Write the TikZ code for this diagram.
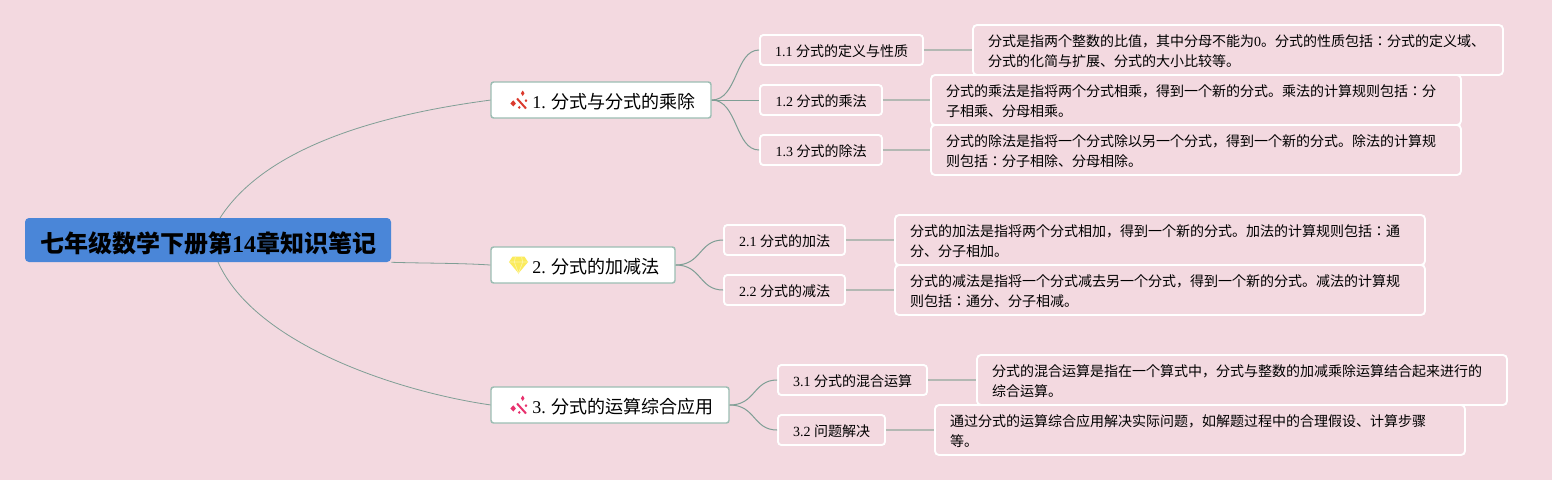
\documentclass[tikz,border=0pt]{standalone}
\usepackage{fontspec}
\setmainfont{Liberation Serif}
\newfontfamily\cjk{Noto Sans CJK JP}
\definecolor{NoteBack}{HTML}{F3D9E0}
\definecolor{NoteRoot}{HTML}{4A86D8}
\definecolor{NoteEdge}{HTML}{9CBDB3}
\definecolor{NoteLink}{HTML}{7F9E95}
\definecolor{NoteLine}{HTML}{B3B8B3}
\definecolor{NoteRed}{HTML}{DB3A2E}
\definecolor{NotePink}{HTML}{E8316E}
\definecolor{NoteGold}{HTML}{FBEB5B}
\newcommand{\lat}[1]{{\rmfamily #1}}
\newcommand{\wandicon}[2]{%
  \begin{scope}[shift={(#1)}]
    \draw[#2,line width=1.5pt] (-1.5,-2) -- (7.5,8);
    \fill[#2] (4.2,-10) -- (6,-7.2) -- (4.2,-4.5) -- (2.4,-7.2) -- cycle;
    \fill[#2] (-5.2,-0.2) -- (-2.6,3) -- (-5.2,6) -- (-8.2,3) -- cycle;
    \fill[#2] (0.8,5.4) -- (2.2,7) -- (0.8,8.4) -- (-0.6,7) -- cycle;
    \fill[#2] (7.5,-1.4) -- (8.8,0.2) -- (7.5,1.6) -- (6.2,0.2) -- cycle;
  \end{scope}}
\newcommand{\gemicon}[2]{%
  \begin{scope}[shift={(#1)}]
    \fill[#2] (-6,-8.3) -- (6,-8.3) -- (9.5,-3) -- (0,8.3) -- (-9.5,-3) -- cycle;
    \draw[white!45!#2,line width=0.5pt] (-9.5,-3) -- (9.5,-3) (-3,-8.3) -- (-4.2,-3) -- (0,8.3) -- (4.2,-3) -- (3,-8.3);
  \end{scope}}
\tikzset{
  noteroot/.style={
    fill=NoteRoot,
    rounded corners=3pt,
    minimum width=274.5pt,
    minimum height=33pt,
    inner sep=0pt,
    text height=20pt,
    text depth=1.6pt,
    font=\cjk\fontsize{18}{22}\selectfont\bfseries
  },
  notemain/.style={
    draw=NoteEdge,
    fill=white,
    line width=1.1pt,
    rounded corners=2pt,
    minimum height=27pt,
    inner sep=0pt,
    text height=13.5pt,
    text depth=1.5pt,
    font=\cjk\fontsize{13.5}{16}\selectfont
  },
  notesub/.style={
    draw=white,
    line width=1.4pt,
    rounded corners=2.5pt,
    minimum height=22.5pt,
    inner sep=0pt,
    text height=11pt,
    text depth=1.5pt,
    font=\cjk\fontsize{10.5}{13}\selectfont
  },
  notetext/.style={
    draw=white,
    line width=1.4pt,
    rounded corners=3pt,
    minimum height=37.5pt,
    text width=375pt,
    inner xsep=11.25pt,
    inner ysep=0pt,
    align=left,
    text height=10pt,
    text depth=15.14pt,
    font=\cjk\fontsize{10.5}{15}\selectfont
  },
  rootlink/.style={draw=NoteLink,line width=0.6pt},
  mainlink/.style={draw=NoteLink,line width=0.75pt},
  textlink/.style={draw=NoteLine,line width=1.1pt}
}
\begin{document}
\begin{tikzpicture}[x=0.75pt,y=-0.75pt]
  \useasboundingbox[fill=NoteBack] (0,0) rectangle (1552,480);

  \draw[rootlink] (220,218) coordinate (rootup) .. controls (270,140) and (400,112) .. (491,100) coordinate (mainup);
  \draw[rootlink] (218,262) coordinate (rootdown) .. controls (255,345) and (400,392) .. (491,405) coordinate (maindown);

  \node[noteroot] (root) at (208,240) {七年级数学下册第\lat{14}章知识笔记};

  \node[notemain,minimum width=165pt] (fracmul) at (601,100) {\hspace{19.5pt}\lat{1. }分式与分式的乘除};
  \node[notemain,minimum width=138pt] (fracadd) at (583,265) {\hspace{19.5pt}\lat{2. }分式的加减法};
  \node[notemain,minimum width=178.5pt] (fracmix) at (610,405) {\hspace{19.5pt}\lat{3. }分式的运算综合应用};
  \wandicon{518.5,100.5}{NoteRed}
  \gemicon{518.5,265}{NoteGold}
  \wandicon{518.5,405.5}{NotePink}

  \node[notesub,minimum width=122.25pt] (subdef) at (841.5,50) {\lat{1.1 }分式的定义与性质};
  \node[notesub,minimum width=91.5pt] (submul) at (821,100) {\lat{1.2 }分式的乘法};
  \node[notesub,minimum width=91.5pt] (subdiv) at (821,150) {\lat{1.3 }分式的除法};
  \node[notesub,minimum width=90.75pt] (subadd) at (784.5,240) {\lat{2.1 }分式的加法};
  \node[notesub,minimum width=90.75pt] (subsub) at (784.5,290) {\lat{2.2 }分式的减法};
  \node[notesub,minimum width=111.75pt] (submix) at (852.5,380) {\lat{3.1 }分式的混合运算};
  \node[notesub,minimum width=80.25pt] (subuse) at (831.5,430) {\lat{3.2 }问题解决};

  \node[notetext] (textdef) at (1238,50) {分式是指两个整数的比值，其中分母不能为\lat{0}。分式的性质包括：分式的定义域、\\分式的化简与扩展、分式的大小比较等。};
  \node[notetext] (textmul) at (1196,100) {分式的乘法是指将两个分式相乘，得到一个新的分式。乘法的计算规则包括：分\\子相乘、分母相乘。};
  \node[notetext] (textdiv) at (1196,150) {分式的除法是指将一个分式除以另一个分式，得到一个新的分式。除法的计算规\\则包括：分子相除、分母相除。};
  \node[notetext] (textadd) at (1160,240) {分式的加法是指将两个分式相加，得到一个新的分式。加法的计算规则包括：通\\分、分子相加。};
  \node[notetext] (textsub) at (1160,290) {分式的减法是指将一个分式减去另一个分式，得到一个新的分式。减法的计算规\\则包括：通分、分子相减。};
  \node[notetext] (textmix) at (1242,380) {分式的混合运算是指在一个算式中，分式与整数的加减乘除运算结合起来进行的\\综合运算。};
  \node[notetext] (textuse) at (1200,430) {通过分式的运算综合应用解决实际问题，如解题过程中的合理假设、计算步骤\\等。};

  \draw[rootlink] (root.south east) .. controls +(30,1) and +(-30,-2) .. (fracadd.west);

  \draw[mainlink] (fracmul.east) .. controls +(26,0) and +(-24,0) .. (subdef.west);
  \draw[mainlink] (fracmul.east) -- (submul.west);
  \draw[mainlink] (fracmul.east) .. controls +(26,0) and +(-24,0) .. (subdiv.west);
  \draw[mainlink] (fracadd.east) .. controls +(26,0) and +(-24,0) .. (subadd.west);
  \draw[mainlink] (fracadd.east) .. controls +(26,0) and +(-24,0) .. (subsub.west);
  \draw[mainlink] (fracmix.east) .. controls +(26,0) and +(-24,0) .. (submix.west);
  \draw[mainlink] (fracmix.east) .. controls +(26,0) and +(-24,0) .. (subuse.west);

  \draw[textlink] (subdef) -- (textdef);
  \draw[textlink] (submul) -- (textmul);
  \draw[textlink] (subdiv) -- (textdiv);
  \draw[textlink] (subadd) -- (textadd);
  \draw[textlink] (subsub) -- (textsub);
  \draw[textlink] (submix) -- (textmix);
  \draw[textlink] (subuse) -- (textuse);
\end{tikzpicture}
\end{document}
